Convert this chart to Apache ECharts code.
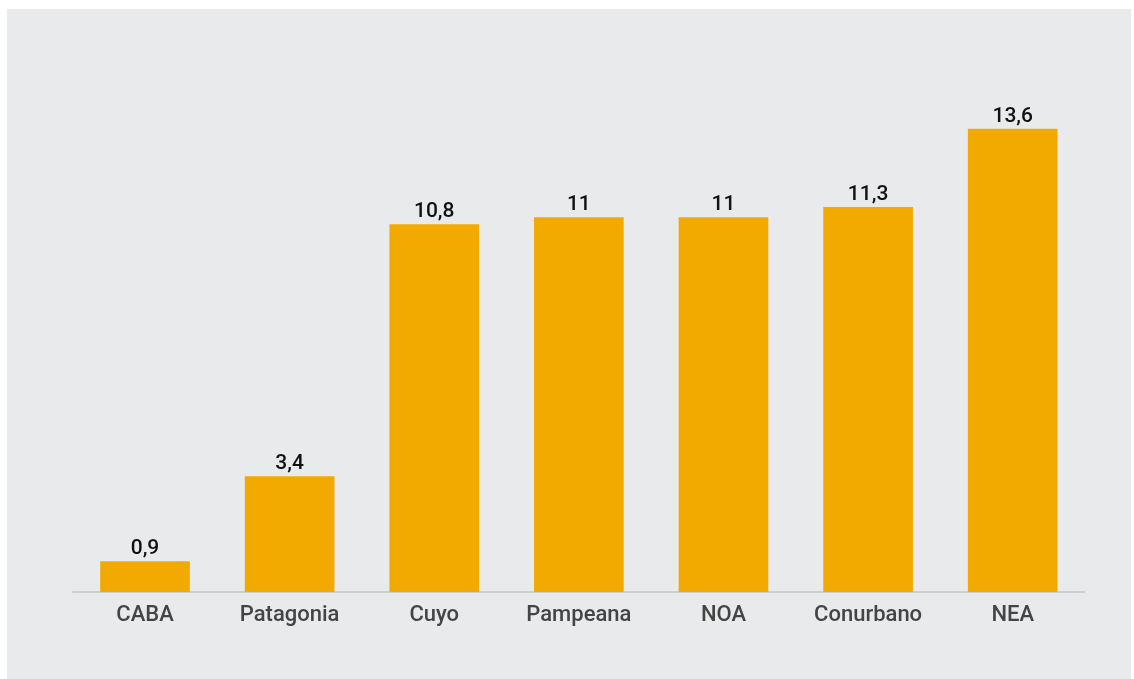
<!DOCTYPE html>
<html>
<head>
<meta charset="utf-8">
<script src="https://cdn.jsdelivr.net/npm/echarts@6/dist/echarts.min.js"></script>
<style>
html,body{margin:0;padding:0;background:#ffffff;}
#c{width:1134px;height:679px;}
</style>
</head>
<body>
<div id="c"></div>
<script>
const categories = ['CABA', 'Patagonia', 'Cuyo', 'Pampeana', 'NOA', 'Conurbano', 'NEA'];
const values = [0.9, 3.4, 10.8, 11, 11, 11.3, 13.6];

const chart = echarts.init(document.getElementById('c'), null, {renderer: 'canvas'});
chart.setOption({
  backgroundColor: '#ffffff',
  animation: false,
  graphic: [{
    type: 'rect',
    z: -10,
    silent: true,
    shape: {x: 7, y: 9, width: 1124, height: 670},
    style: {fill: '#e9eaec'}
  }],
  grid: {left: 72.7, right: 49, top: 47, bottom: 87, containLabel: false},
  xAxis: {
    type: 'category',
    data: categories,
    axisLine: {lineStyle: {color: '#c4c5c7', width: 1.5}},
    axisTick: {show: false},
    axisLabel: {
      color: '#444444',
      fontFamily: 'Roboto',
      fontSize: 22,
      fontWeight: 500,
      margin: 12
    }
  },
  yAxis: {
    type: 'value',
    min: 0,
    max: 16,
    show: false,
    splitLine: {show: false}
  },
  series: [{
    type: 'bar',
    data: values,
    barWidth: '62%',
    itemStyle: {color: '#f3aa00'},
    label: {
      show: true,
      position: 'top',
      distance: 2,
      color: '#111111',
      fontFamily: 'Roboto',
      fontSize: 21,
      fontWeight: 500,
      formatter: p => String(p.value).replace('.', ',')
    }
  }]
});
</script>
</body>
</html>
